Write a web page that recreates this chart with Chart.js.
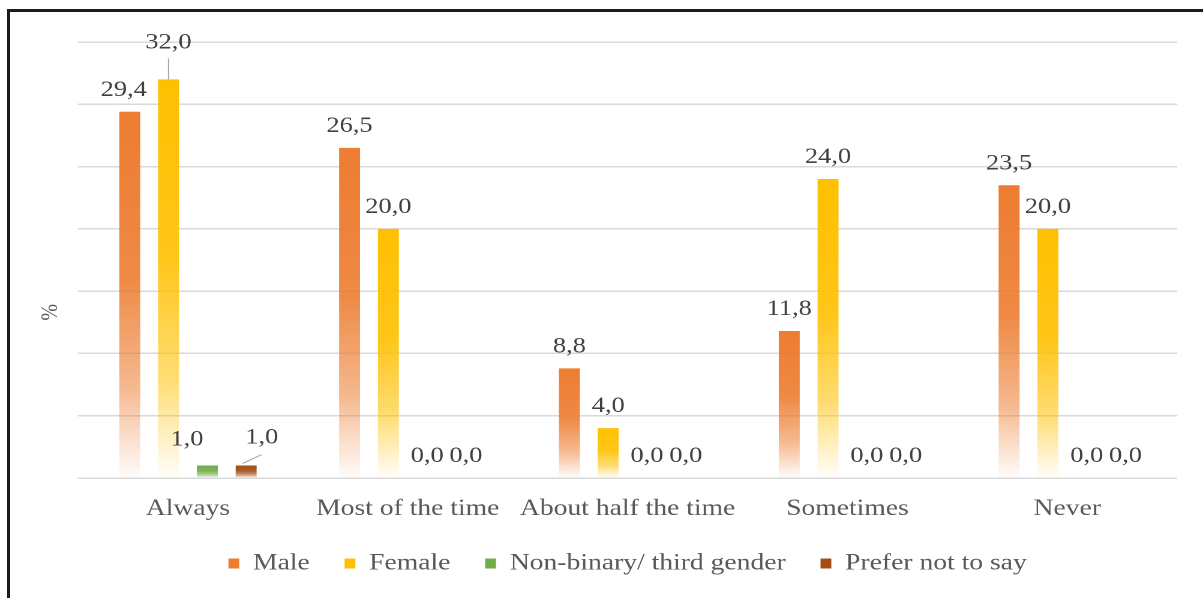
<!DOCTYPE html>
<html>
<head>
<meta charset="utf-8">
<title>Gender by frequency</title>
<script src="https://cdn.jsdelivr.net/npm/chart.js@4.4.1/dist/chart.umd.min.js"></script>
<style>
    html, body { margin: 0; padding: 0; background: #fff; overflow: hidden; }
    /* the source picture is stretched sideways, so the chart is drawn narrow and widened */
    #wrap { position: absolute; left: 0; top: 0; width: 1003px; height: 598px; transform: scaleX(1.2); transform-origin: 0 0; }
    #frame { position: absolute; left: 7px; top: 9px; width: 1400px; height: 800px; border-top: 3px solid #1c1c1c; border-left: 3px solid #1c1c1c; pointer-events: none; }
</style>
</head>
<body>
<div id="wrap"><canvas id="chart"></canvas></div>
<div id="frame"></div>
<script>
const categories = ['Always', 'Most of the time', 'About half the time', 'Sometimes', 'Never'];
const seriesNames = ['Male', 'Female', 'Non-binary/ third gender', 'Prefer not to say'];
const male = [29.4, 26.5, 8.8, 11.8, 23.5];
const female = [32.0, 20.0, 4.0, 24.0, 20.0];
const nonBinary = [1.0, 0.0, 0.0, 0.0, 0.0];
const preferNot = [1.0, 0.0, 0.0, 0.0, 0.0];
const yTicks = [0, 5, 10, 15, 20, 25, 30, 35];
const colors = ['#ED7D31', '#FFC000', '#70AD47', '#A24E12'];

const FONT = '"Liberation Serif", "Times New Roman", serif';

function rgba(hex, a) {
    const n = parseInt(hex.slice(1), 16);
    return `rgba(${(n >> 16) & 255}, ${(n >> 8) & 255}, ${n & 255}, ${a})`;
}

// each bar is solid at the top and fades out towards the axis
function fade(color) {
    return (c) => {
        const { ctx, chartArea, scales } = c.chart;
        if (!chartArea || c.type !== 'data') return color;
        const top = scales.y.getPixelForValue(c.raw);
        const bottom = scales.y.getPixelForValue(0);
        if (bottom - top < 1) return color;
        const g = ctx.createLinearGradient(0, top, 0, bottom);
        g.addColorStop(0, rgba(color, 1));
        g.addColorStop(0.45, rgba(color, 0.9));
        g.addColorStop(0.75, rgba(color, 0.55));
        g.addColorStop(1, rgba(color, 0.02));
        return g;
    };
}

// labels that were dragged by hand in the original
const moved = {
    '0,0': { dx: -5, dy: 0 },
    '1,0': { dx: 0, dy: -15, line: 'up' },
    '2,0': { dx: -17, dy: -4 },
    '3,0': { dx: 13, dy: -6, line: 'slant' }
};

const valueLabels = {
    id: 'valueLabels',
    afterDatasetsDraw(chart) {
        const ctx = chart.ctx;
        ctx.save();
        ctx.font = `22px ${FONT}`;
        ctx.fillStyle = '#404040';
        ctx.textAlign = 'center';
        ctx.textBaseline = 'alphabetic';
        ctx.strokeStyle = '#a6a6a6';
        ctx.lineWidth = 1;
        chart.data.datasets.forEach((ds, di) => {
            chart.getDatasetMeta(di).data.forEach((bar, i) => {
                const m = moved[di + ',' + i] || { dx: 0, dy: 0 };
                const text = ds.data[i].toFixed(1).replace('.', ',');
                ctx.fillText(text, bar.x + m.dx, bar.y - 16 + m.dy);
                if (m.line === 'up') {
                    ctx.beginPath();
                    ctx.moveTo(bar.x, bar.y);
                    ctx.lineTo(bar.x, bar.y - 21);
                    ctx.stroke();
                } else if (m.line === 'slant') {
                    ctx.beginPath();
                    ctx.moveTo(bar.x - 3, bar.y - 2);
                    ctx.lineTo(bar.x + 13, bar.y - 11);
                    ctx.stroke();
                }
            });
        });
        ctx.restore();
    }
};

// "%" axis name, sitting a little below the middle like in the original
const percentTitle = {
    id: 'percentTitle',
    afterDraw(chart) {
        const { ctx, chartArea } = chart;
        ctx.save();
        ctx.translate(42, chartArea.top + (chartArea.bottom - chartArea.top) * 0.62);
        ctx.rotate(-Math.PI / 2);
        ctx.font = `20px ${FONT}`;
        ctx.fillStyle = '#595959';
        ctx.textAlign = 'center';
        ctx.textBaseline = 'middle';
        ctx.fillText('%', 0, 0);
        ctx.restore();
    }
};

const series = [male, female, nonBinary, preferNot];

new Chart(document.getElementById('chart'), {
    type: 'bar',
    data: {
        labels: categories,
        datasets: series.map((values, i) => ({
            label: seriesNames[i],
            data: values,
            backgroundColor: fade(colors[i]),
            borderWidth: 0
        }))
    },
    options: {
        responsive: true,
        maintainAspectRatio: false,
        animation: false,
        devicePixelRatio: 2,
        layout: { padding: { left: 65, right: 22, top: 42, bottom: 15 } },
        datasets: { bar: { categoryPercentage: 0.706, barPercentage: 0.54 } },
        scales: {
            x: {
                grid: { display: false, drawTicks: false },
                border: { display: false },
                ticks: {
                    color: '#595959',
                    font: { family: FONT, size: 23 },
                    padding: 17,
                    maxRotation: 0,
                    autoSkip: false
                },
                // keep the gap down to the legend as tight as in the original
                afterFit: (scale) => { scale.height = 45; }
            },
            y: {
                min: yTicks[0],
                max: yTicks[yTicks.length - 1],
                ticks: { display: false, stepSize: yTicks[1] - yTicks[0] },
                grid: { color: '#d9d9d9', lineWidth: 1.5, drawTicks: false },
                border: { display: false }
            }
        },
        plugins: {
            tooltip: { enabled: false },
            legend: {
                position: 'bottom',
                maxHeight: 60,
                labels: {
                    color: '#595959',
                    font: { family: FONT, size: 23 },
                    boxWidth: 9,
                    boxHeight: 10,
                    padding: 29,
                    generateLabels: (chart) => chart.data.datasets.map((ds, i) => ({
                        text: ds.label,
                        fillStyle: colors[i],
                        strokeStyle: colors[i],
                        lineWidth: 0,
                        fontColor: '#595959',
                        datasetIndex: i
                    }))
                }
            }
        }
    },
    plugins: [valueLabels, percentTitle]
});
</script>
</body>
</html>
